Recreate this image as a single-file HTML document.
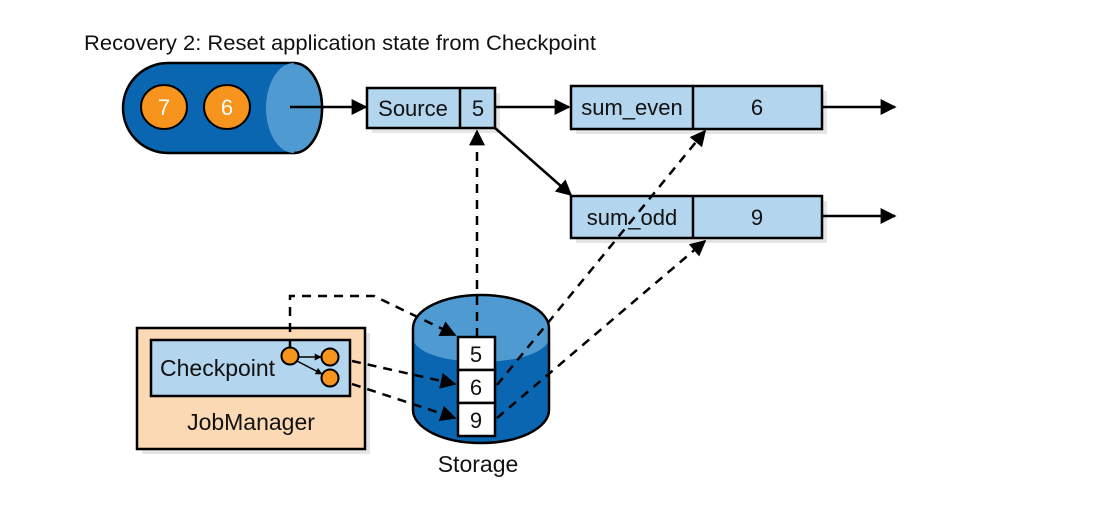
<!DOCTYPE html>
<html><head><meta charset="utf-8"><style>
html,body{margin:0;padding:0;background:#fff;}
svg{display:block;}
text{font-family:"Liberation Sans Narrow","Liberation Sans",sans-serif;fill:#111;}
</style></head><body>
<svg width="1095" height="529" viewBox="0 0 1095 529" xmlns="http://www.w3.org/2000/svg">
<defs>
<marker id="b" viewBox="0 0 10 10" refX="9" refY="5" markerWidth="18" markerHeight="16" markerUnits="userSpaceOnUse" orient="auto"><path d="M0,0 L10,5 L0,10 z" fill="#000"/></marker>
<marker id="s" viewBox="0 0 10 10" refX="9" refY="5" markerWidth="8" markerHeight="7" markerUnits="userSpaceOnUse" orient="auto"><path d="M0,0 L10,5 L0,10 z" fill="#000"/></marker>
</defs>
<text x="84" y="50" font-size="21" textLength="512" lengthAdjust="spacingAndGlyphs">Recovery 2: Reset application state from Checkpoint</text>

<!-- queue -->
<path d="M168,63 L294,63 A28,45 0 0 1 294,153 L168,153 A45,45 0 0 1 168,63 z" fill="#0a66b0" stroke="#000" stroke-width="2.5"/>
<ellipse cx="294" cy="108" rx="28" ry="45" fill="#4f9bd1"/>
<path d="M294,63 A28,45 0 0 1 294,153" fill="none" stroke="#000" stroke-width="2.5"/>
<ellipse cx="164" cy="107" rx="23" ry="22" fill="#f7941d" stroke="#000" stroke-width="2"/>
<ellipse cx="227" cy="107" rx="23" ry="22" fill="#f7941d" stroke="#000" stroke-width="2"/>
<text x="164" y="115" font-size="22" text-anchor="middle" style="fill:#fff">7</text>
<text x="227" y="115" font-size="22" text-anchor="middle" style="fill:#fff">6</text>
<line x1="290" y1="107" x2="366" y2="107" stroke="#000" stroke-width="2.5" marker-end="url(#b)"/>

<!-- source -->
<rect x="372" y="93" width="128" height="40" fill="#ccc" opacity="0.5"/>
<rect x="367" y="88" width="128" height="40" fill="#b3d5ee" stroke="#000" stroke-width="2.5"/>
<line x1="460" y1="88" x2="460" y2="128" stroke="#000" stroke-width="2.5"/>
<text x="413" y="116" font-size="22" text-anchor="middle">Source</text>
<text x="478" y="116" font-size="22" text-anchor="middle">5</text>
<line x1="495" y1="107" x2="569" y2="107" stroke="#000" stroke-width="2.5" marker-end="url(#b)"/>
<line x1="495" y1="128" x2="571" y2="195" stroke="#000" stroke-width="2.5" marker-end="url(#b)"/>

<!-- sum boxes -->
<rect x="576" y="91" width="251" height="43" fill="#ccc" opacity="0.5"/>
<rect x="571" y="86" width="251" height="43" fill="#b3d5ee" stroke="#000" stroke-width="2.5"/>
<line x1="693" y1="86" x2="693" y2="129" stroke="#000" stroke-width="2.5"/>
<text x="632" y="115" font-size="22" text-anchor="middle">sum_even</text>
<text x="757" y="115" font-size="22" text-anchor="middle">6</text>
<rect x="576" y="201" width="251" height="42" fill="#ccc" opacity="0.5"/>
<rect x="571" y="196" width="251" height="42" fill="#b3d5ee" stroke="#000" stroke-width="2.5"/>
<line x1="693" y1="196" x2="693" y2="238" stroke="#000" stroke-width="2.5"/>
<text x="632" y="225" font-size="22" text-anchor="middle">sum_odd</text>
<text x="757" y="225" font-size="22" text-anchor="middle">9</text>
<line x1="822" y1="107" x2="895" y2="107" stroke="#000" stroke-width="2.5" marker-end="url(#b)"/>
<line x1="822" y1="216" x2="895" y2="216" stroke="#000" stroke-width="2.5" marker-end="url(#b)"/>

<!-- jobmanager -->
<rect x="142" y="333" width="228" height="121" fill="#ccc" opacity="0.5"/>
<rect x="137" y="328" width="228" height="121" fill="#fbd9b4" stroke="#000" stroke-width="2.5"/>
<rect x="151" y="340" width="199" height="56" fill="#b3d5ee" stroke="#000" stroke-width="2.5"/>
<text x="160" y="376" font-size="23">Checkpoint</text>
<text x="251" y="430" font-size="23" text-anchor="middle">JobManager</text>
<line x1="298" y1="357" x2="321" y2="357" stroke="#000" stroke-width="1.5" marker-end="url(#s)"/>
<line x1="297" y1="361" x2="322" y2="374" stroke="#000" stroke-width="1.5" marker-end="url(#s)"/>
<circle cx="290" cy="356" r="8.5" fill="#f7941d" stroke="#000" stroke-width="2"/>
<circle cx="330" cy="357" r="8.5" fill="#f7941d" stroke="#000" stroke-width="2"/>
<circle cx="330" cy="378" r="8.5" fill="#f7941d" stroke="#000" stroke-width="2"/>

<!-- storage -->
<path d="M413,328 L413,410 A68,33 0 0 0 549,410 L549,328 z" fill="#0a66b0"/>
<path d="M413,328 A68,33 0 0 1 549,328 L549,338 A68,24 0 0 1 413,338 z" fill="#4f9bd1"/>
<path d="M413,328 L413,410 A68,33 0 0 0 549,410 L549,328 A68,33 0 0 0 413,328 z" fill="none" stroke="#000" stroke-width="2.5"/>
<rect x="458" y="337" width="37" height="33" fill="#fff" stroke="#000" stroke-width="2.5"/>
<rect x="458" y="370" width="37" height="33" fill="#fff" stroke="#000" stroke-width="2.5"/>
<rect x="458" y="403" width="37" height="33" fill="#fff" stroke="#000" stroke-width="2.5"/>
<text x="476" y="362" font-size="22" text-anchor="middle">5</text>
<text x="476" y="395" font-size="22" text-anchor="middle">6</text>
<text x="476" y="428" font-size="22" text-anchor="middle">9</text>
<text x="478" y="472" font-size="23" text-anchor="middle">Storage</text>

<!-- dashed -->
<g stroke="#000" stroke-width="2.5" stroke-dasharray="9,7" fill="none">
<polyline points="290,348 290,296 374,296 455,335" marker-end="url(#b)"/>
<line x1="352" y1="361" x2="455" y2="384" marker-end="url(#b)"/>
<line x1="352" y1="384" x2="455" y2="418" marker-end="url(#b)"/>
<line x1="477" y1="337" x2="477" y2="131" marker-end="url(#b)"/>
<line x1="497" y1="385" x2="705" y2="131" marker-end="url(#b)"/>
<line x1="497" y1="418" x2="705" y2="241" marker-end="url(#b)"/>
</g>
</svg>
</body></html>
